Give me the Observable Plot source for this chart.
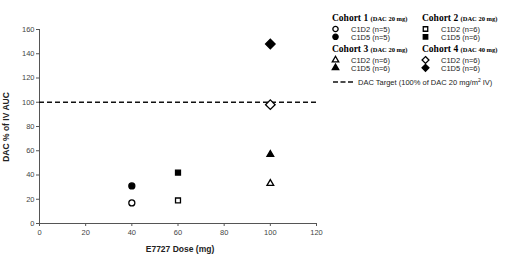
<!DOCTYPE html>
<html><head><meta charset="utf-8">
<script src="https://cdn.jsdelivr.net/npm/d3@7"></script>
<script src="https://cdn.jsdelivr.net/npm/@observablehq/plot@0.6"></script>
<style>body{margin:0;background:#fff;} svg{display:block;}</style>
</head><body><div id="chart"></div>
<script>
// Data
const doses = [40, 40, 60, 60, 100, 100, 100, 100];
const values = [17, 31, 19, 42, 33, 57, 98, 148];
const cohorts = ["Cohort 1", "Cohort 1", "Cohort 2", "Cohort 2", "Cohort 3", "Cohort 3", "Cohort 4", "Cohort 4"];
const days = ["C1D2", "C1D5", "C1D2", "C1D5", "C1D2", "C1D5", "C1D2", "C1D5"];
const cohortNames = ["Cohort 1", "Cohort 2", "Cohort 3", "Cohort 4"];
const cohortDoses = ["(DAC 20 mg)", "(DAC 20 mg)", "(DAC 20 mg)", "(DAC 40 mg)"];
const cohortSymbols = ["circle", "square", "triangle", "diamond2"];
const cohortN = [5, 6, 6, 6];
const targetValue = 100;
const xTicks = [0, 20, 40, 60, 80, 100, 120];
const yTicks = [0, 20, 40, 60, 80, 100, 120, 140, 160];

const symR = {circle: 3.0, square: 2.8, triangle: 2.5, diamond2: 4.3};
const data = doses.map((d, i) => ({dose: d, value: values[i], cohort: cohorts[i], day: days[i],
  symbol: cohortSymbols[cohortNames.indexOf(cohorts[i])]}));

const marks = [
  Plot.ruleY([0], {stroke: "#555", strokeWidth: 1}),
  Plot.ruleX([0], {stroke: "#555", strokeWidth: 1}),
  Plot.axisX({ticks: xTicks, tickSize: 3, tickPadding: 3, fontSize: 7.5, fill: "#444", stroke: "#555", label: null}),
  Plot.axisY({ticks: yTicks, tickSize: 3, tickPadding: 2, fontSize: 7.5, fill: "#444", stroke: "#555", label: null}),
  Plot.ruleY([targetValue], {stroke: "#111", strokeWidth: 1.4, strokeDasharray: "5,3"})
];
for (const s of cohortSymbols) {
  marks.push(Plot.dot(data.filter(d => d.symbol === s), {
    x: "dose", y: "value", symbol: () => s, r: symR[s],
    fill: d => d.day === "C1D5" ? "#000" : "#fff", stroke: "#000", strokeWidth: 1.3
  }));
}

const chart = Plot.plot({
  width: 520, height: 257,
  marginLeft: 39, marginRight: 204, marginTop: 29, marginBottom: 34,
  x: {domain: [0, 120]},
  y: {domain: [0, 160]},
  symbol: {type: "identity"},
  style: {fontFamily: "Arial, 'Liberation Sans', sans-serif", background: "#fff"},
  marks
});
document.getElementById("chart").append(chart);

// Axis titles and legend drawn into the same SVG
const svg = d3.select(chart);
const sans = "Arial, 'Liberation Sans', sans-serif";
svg.append("text").attr("x", 180).attr("y", 252).attr("text-anchor", "middle")
  .attr("font-size", 8.5).attr("font-weight", "bold").attr("fill", "#222")
  .attr("font-family", sans).text("E7727 Dose (mg)");
svg.append("text").attr("transform", "translate(9,127) rotate(-90)").attr("text-anchor", "middle")
  .attr("font-size", 8.5).attr("font-weight", "bold").attr("fill", "#222")
  .attr("font-family", sans).text("DAC % of IV AUC");

const colX = [332, 422];
const rowY = [21, 52];
const sym = d3.symbol();
const symMap = {circle: d3.symbolCircle, square: d3.symbolSquare, triangle: d3.symbolTriangle, diamond2: d3.symbolDiamond2};
const legSize = {circle: 22, square: 20, triangle: 18, diamond2: 30};
cohortNames.forEach((name, i) => {
  const x0 = colX[i % 2], y0 = rowY[Math.floor(i / 2)];
  const t = svg.append("text").attr("x", x0).attr("y", y0).attr("text-anchor", "start")
    .attr("font-family", "'Liberation Serif', 'Times New Roman', serif").attr("font-weight", "bold").attr("fill", "#000");
  t.append("tspan").attr("font-size", 9.5).text(name + " ");
  t.append("tspan").attr("font-size", 6.5).text(cohortDoses[i]);
  ["C1D2", "C1D5"].forEach((day, j) => {
    const cy = y0 + 8 + j * 7.8;
    svg.append("path").attr("d", sym.type(symMap[cohortSymbols[i]]).size(legSize[cohortSymbols[i]])())
      .attr("transform", `translate(${x0 + 3.5},${cy})`)
      .attr("fill", day === "C1D5" ? "#000" : "#fff").attr("stroke", "#000").attr("stroke-width", 1.3);
    svg.append("text").attr("x", x0 + 19).attr("y", cy + 2.7).attr("text-anchor", "start").attr("font-size", 7.5).attr("fill", "#222")
      .attr("font-family", sans).text(`${day} (n=${cohortN[i]})`);
  });
});
svg.append("line").attr("x1", 333).attr("x2", 353).attr("y1", 82).attr("y2", 82)
  .attr("stroke", "#111").attr("stroke-width", 1.3).attr("stroke-dasharray", "5,2.5");
const tt = svg.append("text").attr("x", 358).attr("y", 84.7).attr("text-anchor", "start").attr("font-size", 7.5).attr("fill", "#222")
  .attr("font-family", sans);
tt.append("tspan").text("DAC Target (100% of DAC 20 mg/m");
tt.append("tspan").attr("font-size", 5).attr("dy", -3).text("2");
tt.append("tspan").attr("dy", 3).text(" IV)");
</script></body></html>
